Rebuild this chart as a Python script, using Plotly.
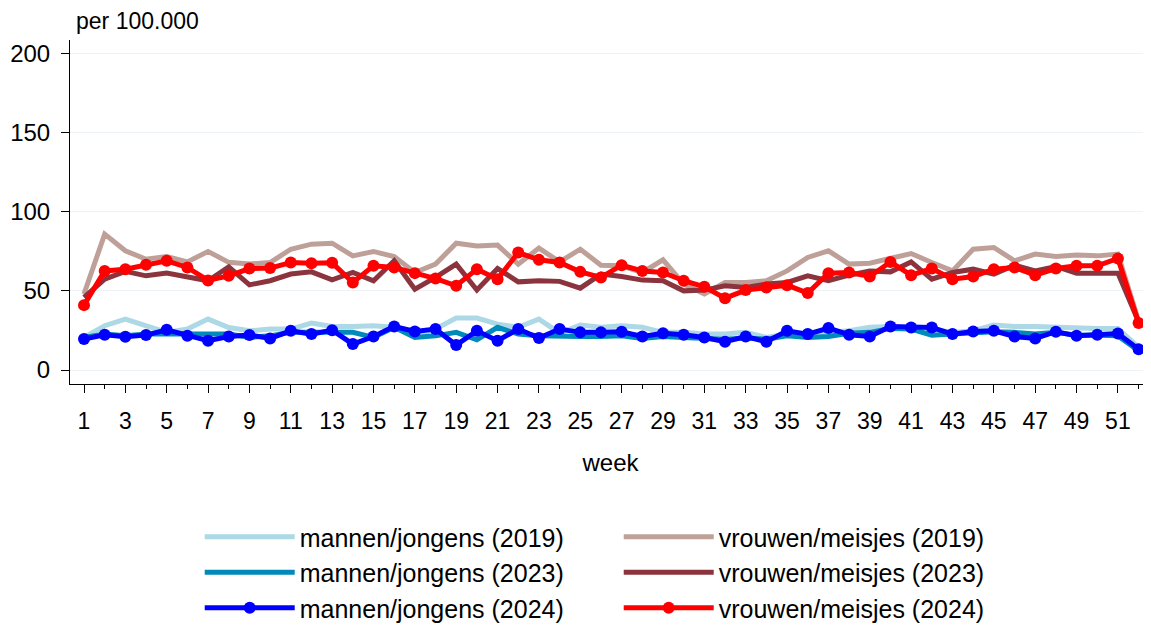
import plotly.graph_objects as go

weeks = list(range(1, 53))

# mannen/jongens
men_2019 = [20.6, 28, 32.2, 28, 23.8, 25.9, 32.2, 26.9, 24.8, 25.9, 25.9, 29.7, 27.5,
            27.5, 28, 27, 21.6, 25.9, 32.8, 32.8, 29, 27, 32.2, 23.3, 28.4, 27, 28,
            27, 23.8, 23.8, 22.7, 22.7, 23.8, 20.6, 22.7, 22.7, 23.8, 24.8, 27, 27.5,
            26.3, 25.9, 23.8, 24.8, 28.4, 27.5, 27.5, 27, 26.3, 26.3, 26.3, 14.3]
men_2023 = [20.6, 22.7, 21.6, 22.7, 22.7, 22.7, 23.3, 22.7, 20.6, 21.6, 23.9, 23.9, 24.3,
            23.8, 20.6, 27, 20.6, 21.6, 23.8, 19.1, 27, 22.7, 21.6, 21.2, 21.2, 21.2, 21.6,
            20, 21.2, 20.6, 20, 19.5, 20.2, 19.5, 21.6, 20.6, 21.2, 23.3, 23.8, 26.3,
            25.9, 22, 22.7, 23.8, 24.2, 23.8, 22.7, 23.8, 22, 22, 21.6, 12.2]
men_2024 = [19.6, 22.3, 21, 22.1, 25.4, 21.6, 18.5, 21.2, 22.1, 20, 24.8, 22.7, 25.2,
            16.4, 21.2, 27.5, 24.4, 25.9, 15.8, 24.8, 18.5, 25.9, 20.2, 25.9, 23.8, 23.8, 24.2,
            21.2, 23.3, 22.3, 20.6, 17.9, 21.2, 17.9, 24.8, 22.7, 26.5, 22.3, 21.2, 27.5,
            26.9, 26.9, 22.7, 24.4, 24.8, 21.2, 20, 24.2, 21.6, 22.3, 23.1, 13.2]

# vrouwen/meisjes
women_2019 = [48, 85.8, 75.3, 70, 71.7, 68.3, 74.9, 68, 66.9, 67.9, 76.3, 79.5, 80.1,
              72.1, 74.9, 71.7, 61.6, 66.9, 80.1, 78.4, 78.9, 66.9, 77, 68.3, 76.3, 66.2, 65.8,
              61.6, 69.6, 54.3, 48, 55.3, 55.3, 56.4, 62.6, 71.1, 75.3, 66.9, 67.5, 70.5,
              73.6, 67.9, 62.6, 76.3, 77.4, 69, 73.2, 71.7, 72.6, 72.1, 73.2, 31]
women_2023 = [45.9, 57.4, 62.3, 59.5, 61.2, 58.5, 56.4, 65.2, 53.8, 56.4, 60.6, 62, 57,
              61.6, 56.4, 69, 51.1, 58.5, 66.9, 50.5, 64.1, 55.7, 56.4, 56, 51.7, 60.6, 59.1,
              56.8, 56.4, 50, 50.5, 53.2, 52.2, 54.3, 55.3, 59.5, 56.4, 59.9, 62.6, 62,
              68.3, 57.4, 61.6, 63.7, 60.6, 66.2, 62.6, 65.4, 61.2, 61.2, 61.2, 30.5]
women_2024 = [41, 62.6, 63.7, 66.5, 69, 64.8, 56.6, 59.5, 64.1, 64.4, 67.9, 67.5, 67.7,
              55.3, 65.8, 64.8, 61.2, 57.8, 53.2, 63.7, 57.4, 74.2, 69.6, 67.9, 62, 58.5, 66.2,
              62.6, 61.6, 56.4, 52.6, 45.4, 50.5, 52.2, 53.6, 48.6, 61.2, 61.6, 59.1, 68.3,
              59.9, 64.1, 57.4, 59.1, 63.7, 64.8, 59.9, 64.1, 65.8, 65.8, 70.5, 29.7]

# drawing order; legendrank gives the two-column legend order
series = [
    ("mannen/jongens (2019)", men_2019, "#add8e6", False, 1),
    ("vrouwen/meisjes (2019)", women_2019, "#bea098", False, 2),
    ("mannen/jongens (2023)", men_2023, "#0089bb", False, 3),
    ("vrouwen/meisjes (2023)", women_2023, "#8c343e", False, 4),
    ("mannen/jongens (2024)", men_2024, "#0000ff", True, 5),
    ("vrouwen/meisjes (2024)", women_2024, "#ff0000", True, 6),
]

fig = go.Figure()
for name, vals, col, mark, rank in series:
    fig.add_trace(go.Scatter(
        x=weeks, y=vals, name=name, legendrank=rank,
        mode="lines+markers" if mark else "lines",
        line=dict(color=col, width=5),
        marker=dict(size=12, color=col),
    ))

# page body has an 8px margin, so the figure is a bit smaller than the window
fig.update_layout(
    width=1143, height=618,
    plot_bgcolor="white", paper_bgcolor="white",
    font=dict(family="Liberation Sans, Arial", size=23, color="black"),
    margin=dict(l=62, r=0, t=32, b=242, autoexpand=False),
    showlegend=True,
    legend=dict(orientation="h", x=0.12, xanchor="left", y=-0.378, yanchor="top",
                entrywidth=314, entrywidthmode="pixels", itemwidth=90,
                font=dict(size=25), tracegroupgap=0),
)
fig.update_xaxes(
    range=[0.323, 52.6], tickvals=list(range(1, 53, 2)),
    ticks="outside", ticklen=8, tickcolor="black", ticklabelstandoff=8,
    minor=dict(tickvals=list(range(2, 53, 2)), ticks="outside", ticklen=4,
               tickcolor="black", showgrid=False),
    showline=True, linecolor="black", linewidth=1, showgrid=False, zeroline=False,
    title=dict(text="week", standoff=21, font=dict(size=24)), tickfont=dict(size=23),
)
fig.update_yaxes(
    range=[-8.8, 208.4], tickvals=[0, 50, 100, 150, 200],
    ticks="outside", ticklen=8, tickcolor="black", ticklabelstandoff=6,
    showline=True, linecolor="black", linewidth=1,
    showgrid=True, gridcolor="#edf2f7", zeroline=False, tickfont=dict(size=24),
)
fig.add_annotation(text="per 100.000", xref="paper", yref="paper", x=0.004, y=1.0,
                   xanchor="left", yanchor="bottom", yshift=4, showarrow=False,
                   font=dict(size=23))

fig.write_html("out.html")
